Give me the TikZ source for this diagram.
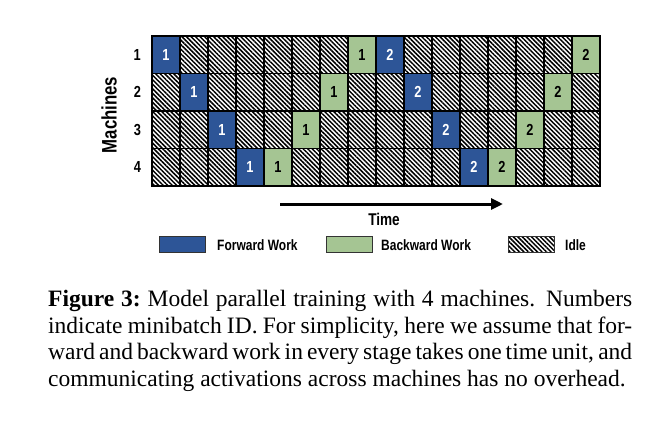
\documentclass[tikz,border=0pt]{standalone}
\usepackage{fontspec}
\setmainfont{Liberation Serif}
\newfontfamily\figfont[FakeStretch=0.8]{Liberation Sans}
\usetikzlibrary{patterns.meta,arrows.meta}

\definecolor{fwdblue}{HTML}{2D5597}
\definecolor{bwdgreen}{HTML}{A5C593}

\tikzset{
  hatch/.style={pattern={Lines[angle=-45,distance=3.2pt,line width=1.5pt]}},
  idlecell/.style={draw=black, line width=1.2pt, hatch, minimum width=28pt,
    minimum height=37.5pt, inner sep=0pt},
  workcell/.style={draw=black, line width=1.2pt, minimum width=28pt,
    minimum height=37.5pt, inner sep=0pt,
    font=\figfont\bfseries\fontsize{16}{16}\selectfont},
  fwd/.style={workcell, fill=fwdblue, text=white},
  bwd/.style={workcell, fill=bwdgreen, text=black},
  lab/.style={font=\figfont\bfseries\fontsize{16}{16}\selectfont, inner sep=0pt},
  keylab/.style={lab, anchor=west, font=\figfont\bfseries\fontsize{15}{15}\selectfont},
  keybox/.style={draw=black!80, line width=0.8pt, minimum width=46pt,
    minimum height=16pt, inner sep=0pt},
}

\begin{document}
\begin{tikzpicture}[x=1pt,y=-1pt]
\useasboundingbox (0,0) rectangle (672,434);

% idle slots everywhere first
\foreach \r in {1,...,4}
  \foreach \c in {1,...,16}
    \node[idlecell] (cell-\r-\c) at ({152+28*\c-14},{36+37.5*\r-18.75}) {};

% forward / backward work of minibatch 1 and 2
\foreach \r in {1,...,4} {
  \pgfmathtruncatemacro{\fa}{\r}
  \pgfmathtruncatemacro{\ba}{9-\r}
  \pgfmathtruncatemacro{\fb}{8+\r}
  \pgfmathtruncatemacro{\bb}{17-\r}
  \node[fwd] (fwd1-\r) at (cell-\r-\fa) {1};
  \node[bwd] (bwd1-\r) at (cell-\r-\ba) {1};
  \node[fwd] (fwd2-\r) at (cell-\r-\fb) {2};
  \node[bwd] (bwd2-\r) at (cell-\r-\bb) {2};
  \node[lab] (mach-\r) at ([xshift=-14pt]cell-\r-1.west) {\r};
}
\node[lab, font=\figfont\bfseries\fontsize{21}{21}\selectfont, rotate=90]
  (machines) at (109,115) {Machines};

% time axis
\coordinate (tstart) at (280,204);
\coordinate (tend) at (503,204);
\draw[line width=3pt, -{Triangle[length=12pt,width=11pt]}] (tstart) -- (tend);
\node[lab, font=\figfont\bfseries\fontsize{17}{17}\selectfont] (time) at (384,219) {Time};

% legend
\node[keybox, fill=fwdblue] (keyfwd) at (182,244) {};
\node[keylab] (keyfwdtxt) at (217,245) {Forward Work};
\node[keybox, fill=bwdgreen] (keybwd) at (349.5,244) {};
\node[keylab] (keybwdtxt) at (381,245) {Backward Work};
\node[keybox, hatch] (keyidle) at (531,244) {};
\node[keylab] (keyidletxt) at (565,245) {Idle};

% caption
\node[anchor=north west, inner sep=0pt, text width=584pt, align=justify,
  font=\fontsize{23.5}{26.7}\selectfont] (caption) at (48,290)
  {\textbf{Figure 3:}\ Model parallel training with 4 machines.  Numbers\linebreak
   indicate minibatch ID. For simplicity, here we assume that for-\linebreak
   ward and backward work in every stage takes one time unit, and\linebreak
   communicating activations across machines has no overhead.};

\end{tikzpicture}
\end{document}
